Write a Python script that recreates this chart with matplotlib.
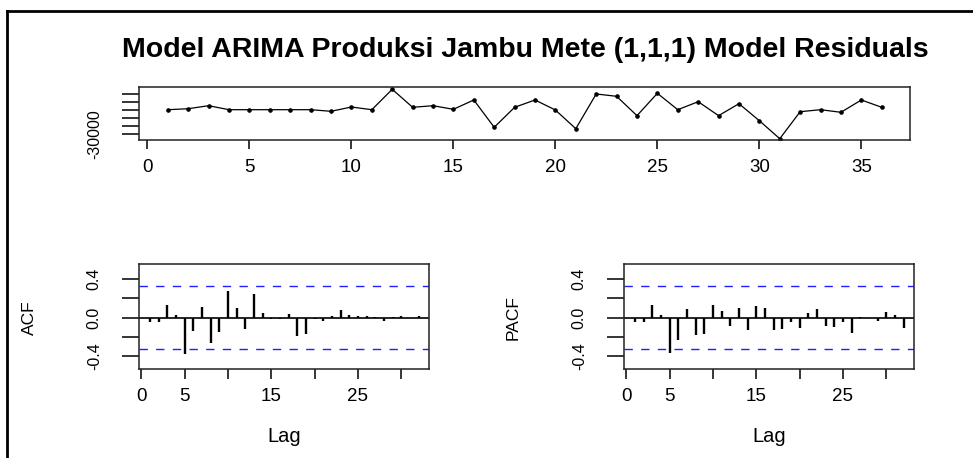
import matplotlib
matplotlib.use('Agg')
import matplotlib.pyplot as plt
from matplotlib.lines import Line2D

plt.rcParams['font.family'] = ['Liberation Sans', 'DejaVu Sans']

# residuals of the fitted model
t = list(range(1, 37))
resid = [750, 2000, 5750, 750, 750, 750, 750, 750, -1250, 4100, 750, 26250,
         3750, 5750, 1250, 12900, -21250, 3750, 12900, 375, -23000, 20400,
         17500, -6700, 21250, 750, 10750, -6700, 8250, -13000, -35500, -1750,
         750, -2500, 12900, 3750]

lags = list(range(1, 33))
acf = [-0.045, -0.045, 0.134, 0.024, -0.376, -0.141, 0.11, -0.266, -0.155,
       0.272, 0.10, -0.117, 0.245, 0.048, -0.017, -0.017, 0.038, -0.193,
       -0.169, -0.017, -0.031, 0.014, 0.076, 0.024, 0.014, 0.014, 0.003,
       -0.031, 0.002, 0.014, -0.002, 0.014]
pacf = [-0.048, -0.048, 0.134, 0.024, -0.366, -0.231, 0.086, -0.183, -0.169,
        0.134, 0.072, -0.083, 0.097, -0.134, 0.121, 0.097, -0.131, -0.117,
        -0.048, -0.107, 0.048, 0.086, -0.083, -0.097, -0.045, -0.166, 0.002,
        -0.003, -0.031, 0.059, 0.024, -0.107]
ci = 0.327

top_xticks = [0, 5, 10, 15, 20, 25, 30, 35]
top_yticks = [-30000, -20000, -10000, 0, 10000, 20000]
top_ylabels = ['-30000', '', '', '', '', '']
acf_xticks = [0, 5, 10, 15, 20, 25, 30]
acf_xlabels = ['0', '5', '', '15', '', '25', '']
acf_yticks = [-0.4, -0.2, 0.0, 0.2, 0.4]
acf_ylabels = ['-0.4', '', '0.0', '', '0.4']

W, H = 973, 458


def fx(px):
    return px / W


def fy(py):
    return 1 - py / H


def box(ax):
    for s in ax.spines.values():
        s.set_linewidth(1.1)
        s.set_color('#222222')


fig = plt.figure(figsize=(W / 100, H / 100), dpi=100)

# top panel: residual series
ax1 = fig.add_axes([fx(139.3), fy(140.3), fx(910.3) - fx(139.3), (140.3 - 87.3) / H])
ax1.plot(t, resid, color='black', lw=0.9, marker='o', ms=2.3)
ax1.set_xlim(-0.4, 37.4)
ax1.set_ylim(-37500, 28750)
ax1.set_xticks(top_xticks)
ax1.set_yticks(top_yticks)
ax1.set_yticklabels(top_ylabels)
ax1.tick_params(axis='x', length=6.5, width=1.1, pad=7, labelsize=13.5)
ax1.tick_params(axis='y', length=12, width=1.1, pad=15, labelsize=11.5, labelrotation=90)
for lb in ax1.get_yticklabels():
    lb.set_va('center')
box(ax1)

# ACF and PACF panels
panels = [(139.3, acf, 'ACF', 29), (624.3, pacf, 'PACF', 513)]
for left, vals, name, lx in panels:
    ax = fig.add_axes([fx(left), fy(369.3), 290 / W, 105 / H])
    ax.vlines(lags, 0, vals, color='black', lw=1.7)
    ax.axhline(0, color='black', lw=1.2)
    for c in (ci, -ci):
        ax.axhline(c, color='#2020ff', lw=1.0, ls=(0, (6, 6)))
    ax.set_xlim(-0.24, 33.24)
    ax.set_ylim(-0.538, 0.553)
    ax.set_xticks(acf_xticks)
    ax.set_xticklabels(acf_xlabels)
    ax.set_yticks(acf_yticks)
    ax.set_yticklabels(acf_ylabels)
    ax.tick_params(axis='x', length=7, width=1.1, pad=6.5, labelsize=13.5)
    ax.tick_params(axis='y', length=12, width=1.1, pad=15, labelsize=11.5, labelrotation=90)
    for lb in ax.get_yticklabels():
        lb.set_va('center')
    box(ax)
    fig.text(fx(lx), fy(318), name, rotation=90, ha='center', va='center', fontsize=12.5)
    fig.text(fx(left + 145), fy(437), 'Lag', ha='center', va='center', fontsize=14.5)

fig.text(fx(525), fy(50), 'Model ARIMA Produksi Jambu Mete (1,1,1) Model Residuals',
         ha='center', va='center', fontsize=20.5, fontweight='bold')

# outer frame (only left and top edges are inside the crop)
fig.add_artist(Line2D([fx(6.5), fx(6.5)], [fy(10.5), 0], transform=fig.transFigure,
                      color='black', lw=2))
fig.add_artist(Line2D([fx(6.5), 1], [fy(10.5), fy(10.5)], transform=fig.transFigure,
                      color='black', lw=2))

fig.savefig('out.png', dpi=100)
